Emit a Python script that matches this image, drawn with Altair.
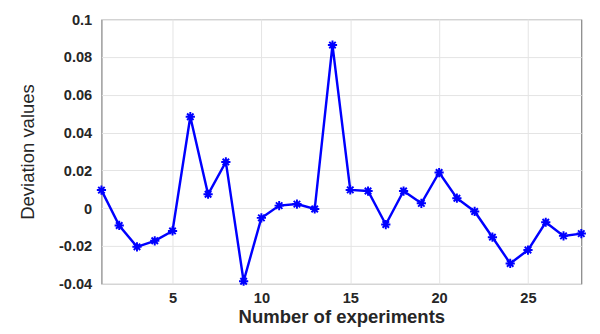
import altair as alt
import pandas as pd

experiments = list(range(1, 29))
deviation = [0.0096, -0.0091, -0.0204, -0.0172, -0.0120, 0.0484, 0.0074, 0.0245,
             -0.0386, -0.0051, 0.0014, 0.0022, -0.0004, 0.0863, 0.0097, 0.0091,
             -0.0086, 0.0091, 0.0026, 0.0189, 0.0053, -0.0017, -0.0153, -0.0292,
             -0.0221, -0.0074, -0.0146, -0.0134]
x_ticks = [5, 10, 15, 20, 25]
y_ticks = [-0.04, -0.02, 0.0, 0.02, 0.04, 0.06, 0.08, 0.1]

df = pd.DataFrame({"n": experiments, "dev": deviation})

asterisk = "M-1,0L1,0M0,-1L0,1M-0.7,-0.7L0.7,0.7M-0.7,0.7L0.7,-0.7"

x_scale = alt.Scale(domain=[1, 28], nice=False, zero=False)
y_scale = alt.Scale(domain=[-0.04, 0.1], nice=False, zero=False)

x_enc = alt.X("n:Q", scale=x_scale,
              axis=alt.Axis(values=x_ticks, title="Number of experiments",
                            labelFont="Liberation Sans", labelFontWeight="bold",
                            labelFontSize=15, labelColor="#262626", labelPadding=7,
                            titleFont="Liberation Sans", titleFontWeight="bold",
                            titleFontSize=19, titleColor="#262626", titlePadding=3,
                            tickSize=0, domain=False, gridColor="#e3e3e3",
                            labelFlush=False, labelOverlap=False))
y_enc = alt.Y("dev:Q", scale=y_scale,
              axis=alt.Axis(values=y_ticks, title="Deviation values",
                            labelExpr="'' + datum.value",
                            labelFont="Liberation Sans", labelFontWeight="bold",
                            labelFontSize=15, labelColor="#262626", labelPadding=10,
                            titleFont="Liberation Sans", titleFontWeight="normal",
                            titleFontSize=19, titleColor="#262626", titlePadding=22,
                            tickSize=0, domain=False, gridColor="#e3e3e3",
                            labelOverlap=False, labelFlush=False))

base = alt.Chart(df).encode(x=x_enc, y=y_enc)
line = base.mark_line(color="#0000ff", strokeWidth=2.5)
pts = base.mark_point(shape=asterisk, size=90, stroke="#0000ff", filled=False,
                      strokeWidth=2, opacity=1)

chart = alt.layer(line, pts).properties(
    width=493, height=272,
    padding={"left": 10, "top": 0, "right": 2, "bottom": 2},
).configure(background="white", view=alt.ViewConfig(stroke="#666666", strokeWidth=1))

chart.save("out.html", embed_options={"renderer": "svg", "actions": False})
